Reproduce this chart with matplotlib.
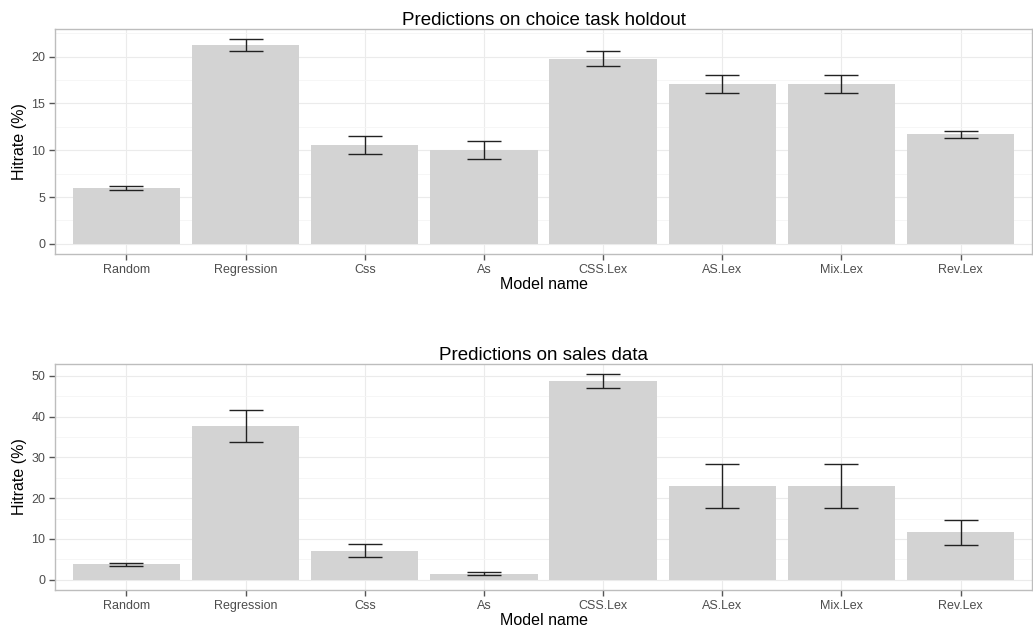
import matplotlib
matplotlib.use("Agg")
import matplotlib.pyplot as plt
import numpy as np
from matplotlib.ticker import MultipleLocator

plt.rcParams['font.family'] = ['Liberation Sans', 'DejaVu Sans']

models = ["Random", "Regression", "Css", "As", "CSS.Lex", "AS.Lex", "Mix.Lex", "Rev.Lex"]

choice_hit = [6.0, 21.24, 10.55, 10.0, 19.8, 17.1, 17.1, 11.72]
choice_err = [0.22, 0.63, 1.0, 0.95, 0.8, 0.98, 0.98, 0.38]

sales_hit = [3.8, 37.8, 7.1, 1.5, 48.7, 23.1, 23.1, 11.6]
sales_err = [0.35, 3.95, 1.6, 0.4, 1.7, 5.4, 5.4, 3.05]

titles = ["Predictions on choice task holdout", "Predictions on sales data"]

fig = plt.figure(figsize=(10.33, 6.32), dpi=100)
W, H = 1033, 632
boxes = [(55, 29, 1032, 254), (55, 364, 1032, 590)]
data = [(choice_hit, choice_err, 5), (sales_hit, sales_err, 10)]

for (l, t, r, b), (vals, errs, step), title in zip(boxes, data, titles):
    ax = fig.add_axes([l / W, 1 - b / H, (r - l) / W, (b - t) / H])
    x = np.arange(len(models))
    ax.bar(x, vals, width=0.9, color="#d3d3d3", zorder=2)
    ax.errorbar(x, vals, yerr=errs, fmt="none", ecolor="#222222", elinewidth=1.0,
                capsize=12, capthick=1.0, zorder=3)
    vals_a = np.array(vals); errs_a = np.array(errs)
    ymax = max(vals_a + errs_a)
    ax.set_ylim(-0.05 * ymax, ymax * 1.05)
    ax.set_xlim(-0.6, len(models) - 0.4)
    ax.set_xticks(x)
    ax.set_xticklabels(models)
    ax.yaxis.set_major_locator(MultipleLocator(step))
    ax.yaxis.set_minor_locator(MultipleLocator(step / 2))
    ax.grid(True, which="major", color="#ebebeb", linewidth=0.8, zorder=0)
    ax.grid(True, which="minor", axis="y", color="#f5f5f5", linewidth=0.6, zorder=0)
    ax.set_axisbelow(True)
    for s in ax.spines.values():
        s.set_color("#bdbdbd")
        s.set_linewidth(1.0)
    ax.tick_params(axis="both", which="major", length=4, width=1, color="#555555",
                   labelsize=9, labelcolor="#4d4d4d", pad=3)
    ax.tick_params(axis="both", which="minor", length=0)
    ax.set_title(title, fontsize=13.5, color="black", pad=3)
    ax.set_xlabel("Model name", fontsize=11.5, labelpad=1)
    ax.set_ylabel("Hitrate (%)", fontsize=11.5, labelpad=3)

fig.savefig("out.png", dpi=100)
